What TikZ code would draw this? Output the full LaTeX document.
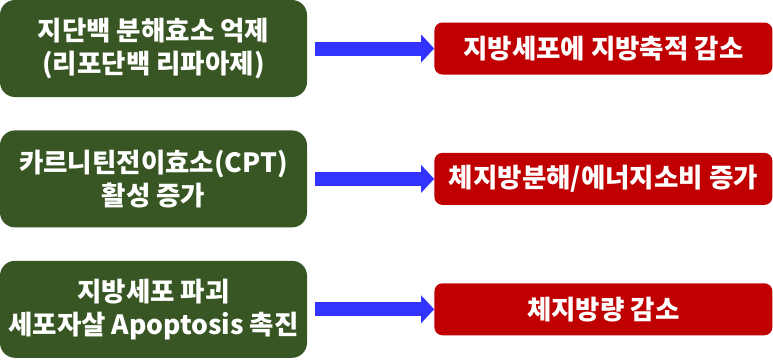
\documentclass[tikz,border=0pt]{standalone}
\usepackage{fontspec}
\setmainfont{Noto Sans CJK KR}
\usepackage{tikz}
\usetikzlibrary{arrows.meta,positioning}

\definecolor{cause}{HTML}{375623}
\definecolor{effect}{HTML}{C00000}
\definecolor{arrowblue}{HTML}{3333FF}

\begin{document}
\begin{tikzpicture}[
	causebox/.style={rectangle, rounded corners=15pt, fill=cause, text=white, font=\bfseries\fontsize{26.5pt}{33pt}\selectfont, align=center, minimum width=307pt, minimum height=97pt, inner sep=0pt},
	effectbox/.style={rectangle, rounded corners=8pt, fill=effect, text=white, font=\bfseries\fontsize{26.5pt}{33pt}\selectfont, align=center, minimum width=338pt, minimum height=52pt, inner sep=0pt},
	fatarrow/.style={arrowblue, line width=14pt, -{Triangle[length=13pt, width=27pt]}}
]
\useasboundingbox (0,0) rectangle (773pt,-359pt);
\node[causebox] (lipase) at (153.5pt,-48.5pt) {지단백 분해효소 억제\\(리포단백 리파아제)};
\node[causebox, below=33pt of lipase] (cpt) {카르니틴전이효소(CPT)\\활성 증가};
\node[causebox, below=33pt of cpt] (apop) {지방세포 파괴\\세포자살 Apoptosis 촉진};
\node[effectbox, right=127pt of lipase] (store) {지방세포에 지방축적 감소};
\node[effectbox, right=127pt of cpt] (burn) {체지방분해/에너지소비 증가};
\node[effectbox, right=127pt of apop] (mass) {체지방량 감소};

\draw[fatarrow] ([xshift=8pt]lipase.east) -- (store.west);
\draw[fatarrow] ([xshift=8pt]cpt.east) -- (burn.west);
\draw[fatarrow] ([xshift=8pt]apop.east) -- (mass.west);
\end{tikzpicture}
\end{document}
